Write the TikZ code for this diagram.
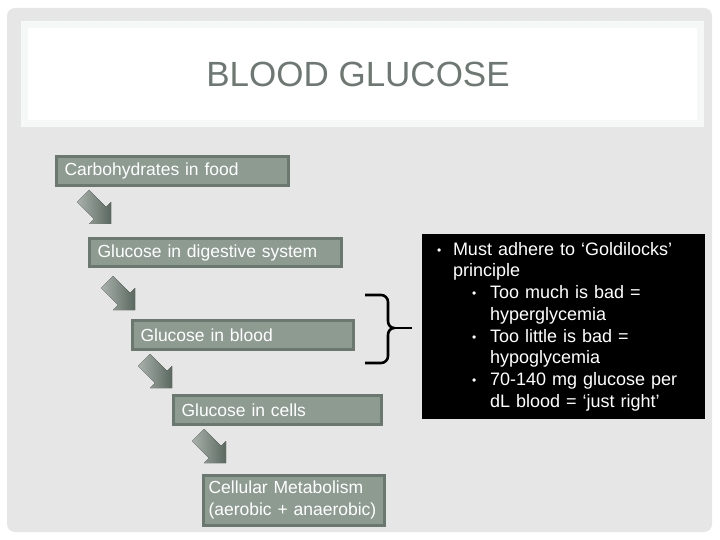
\documentclass[tikz,border=0pt]{standalone}
\usepackage{fontspec}
\setmainfont{Liberation Sans}
\definecolor{framegray}{HTML}{E6E6E6}
\definecolor{titleband}{HTML}{F6F7F7}
\definecolor{titlegray}{HTML}{6E7873}
\definecolor{boxfill}{HTML}{8D9B91}
\definecolor{boxline}{HTML}{6B7870}
\definecolor{arrowlight}{HTML}{A9B2AC}
\definecolor{arrowdark}{HTML}{5A685F}
\tikzset{
  stepbox/.style={draw=boxline, line width=3pt, fill=boxfill, text=white,
    font=\fontsize{17.5}{22}\selectfont, align=left, inner xsep=8pt, inner ysep=0pt},
  factbox/.style={fill=black, text=white, font=\fontsize{18}{21.7}\selectfont,
    align=left, inner xsep=15pt, inner ysep=0pt},
  bracestroke/.style={draw=black, line width=2.6pt},
  steparrow/.pic={
    \fill[left color=arrowlight, right color=arrowdark]
      (0,0) -- (0,-22) -- (-5,-17) -- (-22,-34) -- (-34,-22) -- (-17,-5) -- (-22,0) -- cycle;
  }
}
\newcommand{\bul}{\makebox[16pt][l]{\fontsize{12}{12}\selectfont\raisebox{1pt}{•}}}
\newcommand{\subbul}{\hspace*{35pt}\makebox[18pt][l]{\fontsize{12}{12}\selectfont\raisebox{1pt}{•}}}
\begin{document}
\begin{tikzpicture}[x=1pt, y=-1pt]
      \useasboundingbox (0,0) rectangle (720,540);
      %\draw [help lines] (0,0) grid (720,540);
      \fill[white] (0,0) rectangle (720,540);
      \fill[framegray, rounded corners=8pt] (7,8) rectangle (712,532);
      \fill[titleband] (21,21) rectangle (704,127);
      \fill[white] (28,28) rectangle (697,120);
      \node[text=titlegray, font=\fontsize{35}{40}\selectfont] (title) at (358,74) {BLOOD GLUCOSE};

      \node[stepbox, text width=216pt, minimum height=29.5pt] (food) at (172.5,171) {Carbohydrates in food};
      \node[stepbox, text width=236pt, minimum height=28pt] (digest) at (215.5,252.5) {Glucose in digestive system};
      \node[stepbox, text width=205pt, minimum height=28.5pt] (blood) at (243,335) {Glucose in blood};
      \node[stepbox, text width=192pt, minimum height=29pt] (cells) at (277.5,410) {Glucose in cells};
      \node[stepbox, inner xsep=5pt, text width=171pt, minimum height=50pt] (metab) at (294,500) {Cellular Metabolism\\(aerobic + anaerobic)};

      \pic at (111,224) {steparrow};
      \pic at (135,310) {steparrow};
      \pic at (172,388) {steparrow};
      \pic at (226,463) {steparrow};

      \node[factbox, text width=253pt, minimum height=185pt] (facts) at (563.5,326.5) {%
        \bul Must adhere to ‘Goldilocks’\\
        \hspace*{16pt}principle\\
        \subbul Too much is bad =\\
        \hspace*{53pt}hyperglycemia\\
        \subbul Too little is bad =\\
        \hspace*{53pt}hypoglycemia\\
        \subbul 70-140 mg glucose per\\
        \hspace*{53pt}dL blood = ‘just right’};

      \coordinate (cusp) at (394,328);
      \coordinate (point) at (412,328);
      \draw[bracestroke] (365,295) -- (381,295) to[out=0,in=90] (388,302) -- (388,321)
        to[out=-90,in=180] (cusp) to[out=180,in=90] (388,335) -- (388,356)
        to[out=-90,in=0] (381,363) -- (365,363);
      \draw[bracestroke] (cusp) -- (point);
    \end{tikzpicture}
\end{document}
